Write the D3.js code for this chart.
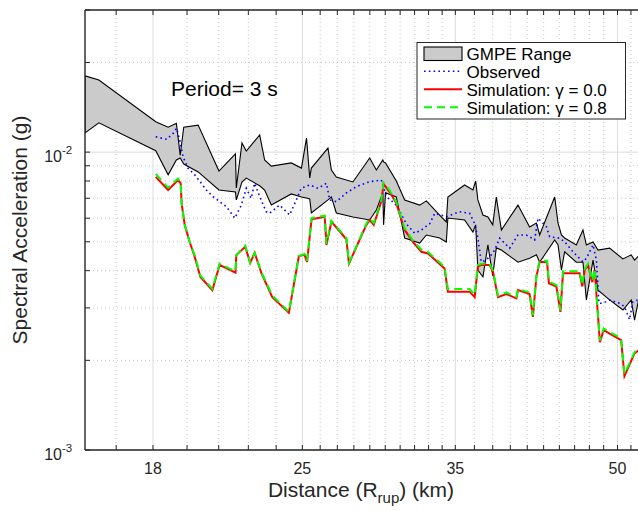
<!DOCTYPE html>
<html><head><meta charset="utf-8">
<script src="https://cdn.jsdelivr.net/npm/d3@7"></script>
<style>body{margin:0;background:#fff}svg{display:block}</style>
</head><body><svg id="c" width="638" height="511"></svg>
<script>
// ---- data ----
const xMajorTicks = [18, 25, 35, 50];
const xMinorTicks = [16.6,19.4,20.8,22.2,23.6,26,27,28,29,30,31,32,33,34,36.5,38,39.5,41,42.5,44,45.5,47,48.5,51.5];
const yMajorTicks = [0.001, 0.01];
const yMajorLabels = ["-3", "-2"];
const yMinorTicks = [0.002,0.003,0.004,0.005,0.006,0.007,0.008,0.009,0.02,0.03];

const gmpeDist = [15.5,15.98,18.11,18.61,18.95,19.11,19.26,19.88,20.81,21.58,21.62,21.89,22.1,22.76,23.01,23.35,24.4,24.95,25.23,25.41,25.5,26.45,26.65,26.94,27.94,28.99,29.42,29.84,29.89,30.02,30.74,31.31,32.36,32.84,33.81,34.31,34.43,35.72,36.38,36.6,36.78,37.19,37.6,38.0,38.3,38.73,40.17,41.21,41.83,42.13,43.55,43.87,44.2,44.51,45.67,46.34,46.69,47.38,47.9,49.14,50.6,51.53,51.91,52.48];
const gmpeUpper = [0.01803,0.01746,0.01264,0.01213,0.01249,0.00977,0.01213,0.01232,0.00864,0.00986,0.00758,0.01073,0.01008,0.01142,0.00941,0.00898,0.0092,0.00884,0.01115,0.00819,0.00884,0.01032,0.00871,0.00825,0.00794,0.00956,0.00871,0.00941,0.00927,0.0092,0.008,0.00691,0.00664,0.00686,0.00615,0.00583,0.00707,0.00776,0.00746,0.008,0.00691,0.00615,0.00606,0.0057,0.00707,0.00548,0.00664,0.00561,0.00578,0.00527,0.00707,0.00578,0.00527,0.00515,0.00488,0.00548,0.00488,0.00499,0.00469,0.00476,0.00438,0.00452,0.00434,0.00452];
const gmpeLower = [0.01161,0.01254,0.01011,0.00839,0.00941,0.00956,0.00912,0.00858,0.00746,0.00735,0.00691,0.00794,0.00818,0.00771,0.00746,0.00664,0.00724,0.00707,0.00701,0.00696,0.00625,0.00691,0.00707,0.00625,0.00606,0.00592,0.00639,0.0073,0.0057,0.0073,0.00707,0.00515,0.00495,0.00527,0.00515,0.00499,0.00601,0.00592,0.00539,0.0057,0.00402,0.00381,0.00488,0.00384,0.00477,0.00469,0.00427,0.0044,0.00452,0.00427,0.00507,0.00488,0.00402,0.00463,0.00427,0.00427,0.00319,0.00434,0.00344,0.00319,0.00295,0.00319,0.00273,0.00331];

const obsDist = [18.11,18.55,18.82,18.96,19.09,19.23,19.44,19.73,20.02,20.24,20.54,21.15,21.55,21.86,22.1,22.34,22.51,22.76,23.09,23.26,23.78,24.31,24.67,24.94,25.41,25.88,26.36,26.55,26.94,27.54,28.15,28.99,29.74,30.07,30.63,30.85,31.42,32.01,32.48,33.08,33.45,34.31,35.33,36.12,36.52,36.78,37.05,37.46,37.88,38.16,38.58,39.44,40.17,40.91,41.21,41.67,41.98,42.76,43.07,44.03,44.51,45.33,46.34,46.69,47.38,47.73,48.0,48.42,49.14,50.22,50.77,51.34,51.71,52.25];
const obsVal = [0.01126,0.01104,0.01156,0.01202,0.01098,0.00965,0.00883,0.00839,0.00786,0.00746,0.00709,0.00656,0.006,0.00664,0.00756,0.007,0.00786,0.00709,0.00631,0.00623,0.00664,0.00615,0.00691,0.00756,0.00776,0.00756,0.00786,0.00691,0.00682,0.00729,0.00766,0.00796,0.00806,0.00709,0.00673,0.0065,0.00575,0.00534,0.00548,0.00575,0.00623,0.00607,0.00631,0.00623,0.00575,0.00514,0.00428,0.00434,0.00452,0.00469,0.00514,0.00476,0.00527,0.00527,0.0052,0.00507,0.006,0.00562,0.0052,0.00514,0.005,0.00463,0.00428,0.0044,0.00488,0.00434,0.00311,0.00311,0.00319,0.00311,0.00303,0.00274,0.00314,0.00319];

const simDist = [18.11,18.61,19.02,19.13,19.17,19.30,19.51,19.73,19.98,20.51,20.84,21.58,21.62,22.05,22.29,22.51,22.85,23.40,24.27,24.81,25.12,25.26,25.51,26.26,26.36,26.65,27.54,27.70,28.78,28.99,29.25,29.74,29.89,30.29,30.74,31.31,31.88,32.48,32.96,34.18,34.43,36.12,36.52,36.78,37.05,37.74,38.02,38.44,39.15,40.03,40.17,41.21,41.51,41.83,42.13,42.82,43.0,43.71,44.1,44.35,46.0,46.28,46.52,46.86,47.31,47.55,48.1,48.5,49.14,50.4,50.77,51.91,52.48];
const simGamma00 = [0.00826,0.00746,0.00806,0.00786,0.00673,0.0057,0.005,0.00445,0.00381,0.00344,0.00418,0.00394,0.00451,0.00481,0.00425,0.00459,0.00392,0.00326,0.00289,0.00448,0.00452,0.00428,0.00595,0.00607,0.00488,0.00584,0.0051,0.00423,0.0057,0.00592,0.0057,0.00682,0.00781,0.00736,0.00673,0.00548,0.005,0.00463,0.00457,0.00407,0.0034,0.0034,0.00326,0.00413,0.00418,0.00418,0.00397,0.00326,0.00334,0.00323,0.00344,0.00334,0.0028,0.00382,0.00428,0.00428,0.00363,0.00354,0.00291,0.00392,0.00392,0.00354,0.00402,0.00418,0.00366,0.00402,0.0023,0.00253,0.00246,0.00234,0.00177,0.00211,0.00217];
const simGamma08 = [0.00845,0.0076,0.00815,0.00786,0.00673,0.0057,0.005,0.0045,0.00385,0.00348,0.00422,0.00398,0.00451,0.00485,0.00425,0.00459,0.00395,0.0033,0.00291,0.00448,0.00455,0.00432,0.006,0.00612,0.00492,0.00588,0.00515,0.00425,0.00575,0.006,0.00578,0.0069,0.0079,0.00745,0.0068,0.00555,0.00505,0.0047,0.00462,0.00412,0.00347,0.00347,0.00332,0.00418,0.00422,0.00422,0.004,0.0033,0.00338,0.00326,0.00347,0.00338,0.00283,0.00386,0.00432,0.00432,0.00367,0.00358,0.00294,0.00398,0.00398,0.00358,0.00405,0.00422,0.0037,0.00405,0.00233,0.00256,0.00249,0.00237,0.0018,0.00213,0.0022];

const legendLabels = ["GMPE Range", "Observed", "Simulation: \u03b3 = 0.0", "Simulation: \u03b3 = 0.8"];

// ---- layout ----
const svg = d3.select("#c");
const L = 85, T = 10, B = 450, R = 644;
const font = "'Liberation Sans', Arial, Helvetica, sans-serif";
const ink = "#262626";
const x = d3.scaleLog().domain([15.5, 53]).range([L, R]);
const y = d3.scaleLog().domain([0.001, 0.03]).range([B, T]);

svg.append("defs").append("clipPath").attr("id", "clip")
  .append("rect").attr("x", L).attr("y", T).attr("width", R - L).attr("height", B - T);

// grid
const grid = svg.append("g");
grid.selectAll(".xmg").data(xMinorTicks).enter().append("line")
  .attr("x1", d => x(d)).attr("x2", d => x(d)).attr("y1", T).attr("y2", B)
  .attr("stroke", "#b8b8b8").attr("stroke-width", 0.8).attr("stroke-dasharray", "1,3");
grid.selectAll(".ymg").data(yMinorTicks).enter().append("line")
  .attr("y1", d => y(d)).attr("y2", d => y(d)).attr("x1", L).attr("x2", R)
  .attr("stroke", "#b8b8b8").attr("stroke-width", 0.8).attr("stroke-dasharray", "1,3");
grid.selectAll(".xMg").data(xMajorTicks).enter().append("line")
  .attr("x1", d => x(d)).attr("x2", d => x(d)).attr("y1", T).attr("y2", B)
  .attr("stroke", "#dcdcdc").attr("stroke-width", 1);
grid.selectAll(".yMg").data(yMajorTicks).enter().append("line")
  .attr("y1", d => y(d)).attr("y2", d => y(d)).attr("x1", L).attr("x2", R)
  .attr("stroke", "#dcdcdc").attr("stroke-width", 1);

const plot = svg.append("g").attr("clip-path", "url(#clip)");

// GMPE band
const gmpe = gmpeDist.map((d, i) => ({d, hi: gmpeUpper[i], lo: gmpeLower[i]}));
plot.append("path").datum(gmpe)
  .attr("d", d3.area().x(p => x(p.d)).y0(p => y(p.lo)).y1(p => y(p.hi)))
  .attr("fill", "#cbcbcb").attr("stroke", "#000").attr("stroke-width", 1.1)
  .attr("stroke-linejoin", "miter");

const line = d3.line().x(p => x(p[0])).y(p => y(p[1]));
plot.append("path").datum(obsDist.map((d, i) => [d, obsVal[i]]))
  .attr("d", line).attr("fill", "none").attr("stroke", "#0000ff")
  .attr("stroke-width", 1.6).attr("stroke-dasharray", "1.6,3.2");
plot.append("path").datum(simDist.map((d, i) => [d, simGamma00[i]]))
  .attr("d", line).attr("fill", "none").attr("stroke", "#ff0000").attr("stroke-width", 2);
plot.append("path").datum(simDist.map((d, i) => [d, simGamma08[i]]))
  .attr("d", line).attr("fill", "none").attr("stroke", "#00ff00")
  .attr("stroke-width", 2).attr("stroke-dasharray", "8,5");

// axes
const ax = svg.append("g").attr("stroke", ink).attr("stroke-width", 1);
const allX = xMajorTicks.concat(xMinorTicks);
ax.selectAll(".xt").data(allX).enter().append("line")
  .attr("x1", d => x(d)).attr("x2", d => x(d)).attr("y1", B).attr("y2", B - 5);
ax.selectAll(".xtt").data(allX).enter().append("line")
  .attr("x1", d => x(d)).attr("x2", d => x(d)).attr("y1", T).attr("y2", T + 5);
const allY = yMajorTicks.concat(yMinorTicks);
ax.selectAll(".yt").data(allY).enter().append("line")
  .attr("y1", d => y(d)).attr("y2", d => y(d)).attr("x1", L).attr("x2", L + 5);
svg.append("line").attr("x1", L).attr("x2", 638).attr("y1", B).attr("y2", B)
  .attr("stroke", ink).attr("stroke-width", 1.4);
svg.append("line").attr("x1", L).attr("x2", 638).attr("y1", T).attr("y2", T)
  .attr("stroke", ink).attr("stroke-width", 1.4);
svg.append("line").attr("x1", L).attr("x2", L).attr("y1", T).attr("y2", B)
  .attr("stroke", ink).attr("stroke-width", 1.4);

// tick labels
svg.selectAll(".xl").data(xMajorTicks).enter().append("text")
  .attr("x", d => x(d)).attr("y", B + 24).attr("text-anchor", "middle")
  .attr("font-family", font).attr("font-size", 16).attr("fill", ink).text(d => d);
yMajorTicks.forEach((v, i) => {
  svg.append("text").attr("x", 62).attr("y", y(v) + 10).attr("text-anchor", "end")
    .attr("font-family", font).attr("font-size", 16).attr("fill", ink).text("10");
  svg.append("text").attr("x", 62).attr("y", y(v) + 2)
    .attr("font-family", font).attr("font-size", 11.5).attr("fill", ink).text(yMajorLabels[i]);
});

// axis titles
const xt = svg.append("text").attr("x", 361).attr("y", 497).attr("text-anchor", "middle")
  .attr("font-family", font).attr("font-size", 21).attr("fill", ink);
xt.append("tspan").text("Distance (R");
xt.append("tspan").attr("font-size", 15).attr("dy", 6).text("rup");
xt.append("tspan").attr("dy", -6).text(") (km)");
svg.append("text").attr("transform", "translate(27,230) rotate(-90)")
  .attr("text-anchor", "middle").attr("font-family", font).attr("font-size", 21)
  .attr("fill", ink).text("Spectral Acceleration (g)");

svg.append("text").attr("x", 171).attr("y", 96).attr("font-family", font)
  .attr("font-size", 21).attr("fill", "#000").text("Period= 3 s");

// legend
const lg = svg.append("g");
lg.append("rect").attr("x", 417).attr("y", 42.5).attr("width", 208.5).attr("height", 76.5)
  .attr("fill", "#fff").attr("stroke", ink).attr("stroke-width", 1);
const rows = [53.7, 71.3, 89.3, 107.3];
lg.append("rect").attr("x", 424).attr("y", 47).attr("width", 38).attr("height", 13.5)
  .attr("fill", "#cbcbcb").attr("stroke", "#000").attr("stroke-width", 1.1);
lg.append("line").attr("x1", 424).attr("x2", 462).attr("y1", rows[1]).attr("y2", rows[1])
  .attr("stroke", "#0000ff").attr("stroke-width", 1.6).attr("stroke-dasharray", "1.6,3.2");
lg.append("line").attr("x1", 424).attr("x2", 462).attr("y1", rows[2]).attr("y2", rows[2])
  .attr("stroke", "#ff0000").attr("stroke-width", 2);
lg.append("line").attr("x1", 424).attr("x2", 462).attr("y1", rows[3]).attr("y2", rows[3])
  .attr("stroke", "#00ff00").attr("stroke-width", 2).attr("stroke-dasharray", "8,5");
lg.selectAll(".lt").data(legendLabels).enter().append("text")
  .attr("x", 466.5).attr("y", (d, i) => rows[i] + 6.2)
  .attr("font-family", font).attr("font-size", 17).attr("fill", "#000").text(d => d);
</script></body></html>
